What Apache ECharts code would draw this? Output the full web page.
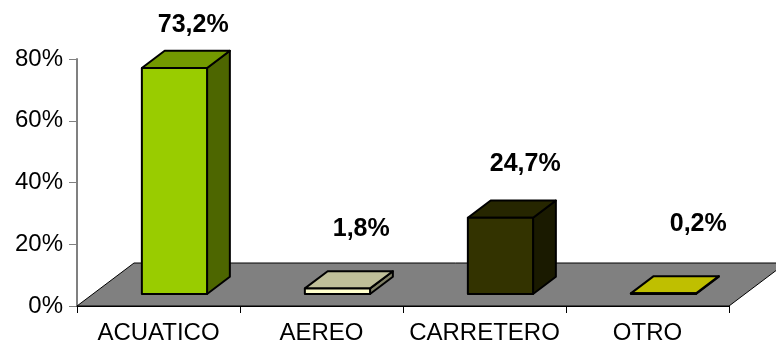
<!DOCTYPE html>
<html>
<head>
<meta charset="utf-8">
<script src="https://cdn.jsdelivr.net/npm/echarts@6/dist/echarts.min.js"></script>
<style>
  html, body { margin: 0; padding: 0; background: #fff; }
  #chart { width: 776px; height: 347px; }
</style>
</head>
<body>
<div id="chart"></div>
<script>
// Modal share of transport
const categories = ['ACUATICO', 'AEREO', 'CARRETERO', 'OTRO'];
const shares = [73.2, 1.8, 24.7, 0.2];
const shareLabels = ['73,2%', '1,8%', '24,7%', '0,2%'];
const yTicks = ['0%', '20%', '40%', '60%', '80%'];

// base colours of the bars (front face); top and side are shaded from them
const barColors = ['#99CC00', '#FFFFCC', '#333300', '#FFFF00'];

// depth of the floor in pixels and where each bar sits inside it
const DEPTH = [57, -43];
const FRONT_T = 0.28, BACK_T = 0.68;
const BAR_RATIO = 0.4;
// nudges for the value labels above each bar [dx, lift]
const labelNudge = [[-4, 26], [1, 42], [2, 36], [12, 52]];

const FONT = '"Liberation Sans", Arial, sans-serif';

function shade(hex, k) {
  const n = parseInt(hex.slice(1), 16);
  const r = Math.round(((n >> 16) & 255) * k);
  const g = Math.round(((n >> 8) & 255) * k);
  const b = Math.round((n & 255) * k);
  return 'rgb(' + r + ',' + g + ',' + b + ')';
}

function renderFloor(params, api) {
  const cs = params.coordSys;
  const y0 = api.coord([0, 0])[1];
  const x0 = cs.x, x1 = cs.x + cs.width;
  return {
    type: 'polygon',
    shape: { points: [[x0, y0], [x1, y0], [x1 + DEPTH[0], y0 + DEPTH[1]], [x0 + DEPTH[0], y0 + DEPTH[1]]] },
    style: { fill: '#808080', stroke: '#000', lineWidth: 1 }
  };
}

function renderBar(params, api) {
  const i = api.value(0);
  const v = api.value(1);
  const base = api.coord([i, 0]);
  const top = api.coord([i, v]);
  const band = api.size([1, 0])[0];
  const w = band * BAR_RATIO;
  const fx = DEPTH[0] * FRONT_T, fy = DEPTH[1] * FRONT_T;
  const bx = DEPTH[0] * BACK_T, by = DEPTH[1] * BACK_T;
  const L = base[0] - w / 2 + fx, R = base[0] + w / 2 + fx;
  const B = base[1] + fy, T = top[1] + fy;
  const dx = bx - fx, dy = by - fy;
  const col = barColors[i];
  const edge = { stroke: '#000', lineWidth: 2, lineJoin: 'round' };
  const nudge = labelNudge[i];
  return {
    type: 'group',
    children: [
      { type: 'polygon', shape: { points: [[R, B], [R + dx, B + dy], [R + dx, T + dy], [R, T]] },
        style: Object.assign({ fill: shade(col, 0.5) }, edge) },
      { type: 'polygon', shape: { points: [[L, T], [R, T], [R + dx, T + dy], [L + dx, T + dy]] },
        style: Object.assign({ fill: shade(col, 0.75) }, edge) },
      { type: 'rect', shape: { x: L, y: T, width: R - L, height: B - T },
        style: Object.assign({ fill: col }, edge) },
      { type: 'text',
        style: { text: shareLabels[i], x: (L + R) / 2 + dx + nudge[0], y: T + dy - nudge[1],
                 align: 'center', verticalAlign: 'middle',
                 font: 'bold 25px ' + FONT, fill: '#000' } }
    ]
  };
}

const chart = echarts.init(document.getElementById('chart'), null, { renderer: 'canvas' });
chart.setOption({
  animation: false,
  backgroundColor: '#fff',
  grid: { left: 77, right: 47, top: 59, bottom: 41, containLabel: false },
  xAxis: {
    type: 'category',
    data: categories,
    boundaryGap: true,
    axisLine: { show: true, lineStyle: { color: '#000', width: 1 } },
    axisTick: { show: true, length: 7, lineStyle: { color: '#000' } },
    axisLabel: { color: '#000', fontSize: 24, fontFamily: FONT, margin: 15, interval: 0 },
    z: 10
  },
  yAxis: {
    type: 'value',
    min: 0, max: 80, interval: 20,
    axisLine: { show: true, lineStyle: { color: '#808080', width: 2 } },
    axisTick: { show: true, length: 8, lineStyle: { color: '#808080', width: 1 } },
    axisLabel: { color: '#000', fontSize: 24, fontFamily: FONT, margin: 14,
                 formatter: function (val) { return yTicks[Math.round(val / 20)]; } },
    splitLine: { show: false }
  },
  series: [
    { type: 'custom', renderItem: renderFloor, data: [[0, 0]], clip: false, silent: true, z: 1 },
    { type: 'custom', renderItem: renderBar, clip: false, z: 3,
      data: shares.map(function (v, i) { return [i, v]; }) }
  ]
});
</script>
</body>
</html>
